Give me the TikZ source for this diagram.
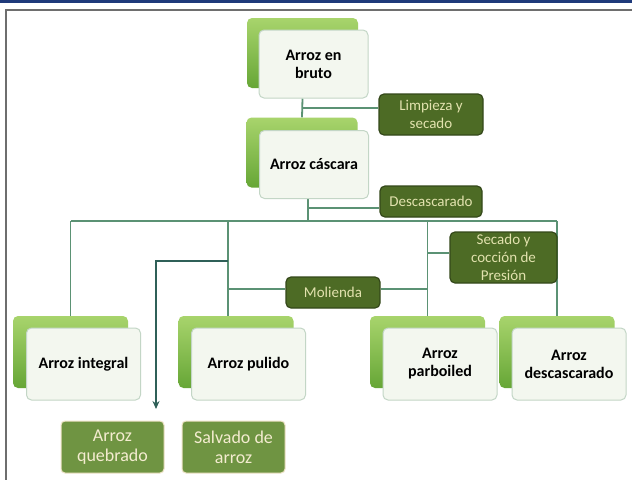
\documentclass[tikz,border=0pt]{standalone}
\usepackage{fontspec}
\setmainfont{Carlito}
\usetikzlibrary{arrows.meta}
\definecolor{topblue}{HTML}{1F3A7A}
\definecolor{framegray}{HTML}{6E6E6E}
\definecolor{bgtop}{HTML}{A8D46C}
\definecolor{bgbot}{HTML}{66A636}
\definecolor{frontfill}{HTML}{F3F7EF}
\definecolor{frontedge}{HTML}{C3D6C6}
\definecolor{procfill}{HTML}{4D6B25}
\definecolor{procedge}{HTML}{34481A}
\definecolor{proctext}{HTML}{E2E2AE}
\definecolor{prodfill}{HTML}{6F9442}
\definecolor{prodedge}{HTML}{EFE3C8}
\definecolor{prodtext}{HTML}{F4ECD0}
\definecolor{conncolor}{HTML}{5B9274}
\definecolor{darkline}{HTML}{2F6058}
\pgfdeclarelayer{bg}
\pgfsetlayers{bg,main}
\tikzset{
  backbox/.style={rectangle, rounded corners=5pt, draw=none, top color=bgtop, bottom color=bgbot, inner sep=0pt},
  topback/.style={backbox, minimum width=111pt, minimum height=70pt},
  lowback/.style={backbox, minimum width=115pt, minimum height=72pt},
  frontbox/.style={rectangle, rounded corners=5pt, draw=frontedge, line width=1pt, fill=frontfill, inner sep=1pt, align=center, text=black, font=\bfseries\fontsize{16}{18}\selectfont},
  topfront/.style={frontbox, minimum width=109pt, minimum height=68pt},
  lowfront/.style={frontbox, minimum width=114pt, minimum height=72pt},
  procbox/.style={rectangle, rounded corners=5pt, draw=procedge, line width=1.2pt, fill=procfill, text=proctext, align=center, inner sep=0pt, font=\fontsize{15}{18}\selectfont},
  prodbox/.style={rectangle, rounded corners=4pt, draw=prodedge, line width=1pt, fill=prodfill, text=prodtext, align=center, inner sep=0pt, font=\fontsize{18}{20}\selectfont, minimum width=103pt, minimum height=52pt},
  conn/.style={draw=conncolor, line width=1.8pt},
  darrow/.style={draw=darkline, line width=1.8pt, -{Stealth[length=8pt,width=7pt]}}
}
\begin{document}
\begin{tikzpicture}[x=1pt,y=-1pt]
\useasboundingbox (0,0) rectangle (632,480);
\fill[topblue] (0,0) rectangle (632,2.5);
\draw[framegray, line width=2pt] (632,10) -- (6,10) -- (6,480);

% back boxes
\node[topback] (bruto-b) at (302.5,53) {};
\node[topback] (casc-b) at (302,152.5) {};
\node[lowback] (integ-b) at (70.5,352) {};
\node[lowback] (pul-b) at (236,352) {};
\node[lowback] (parb-b) at (427.5,352) {};
\node[lowback] (desc-b) at (557,352) {};

% front boxes
\node[topfront] (bruto) at (313.5,64) {Arroz en\\bruto};
\node[topfront] (casc) at (314,164.5) {Arroz cáscara};
\node[lowfront] (integ) at (83.5,364) {Arroz integral};
\node[lowfront] (pul) at (248.5,364) {Arroz pulido};
\node[lowfront] (parb) at (440,364) {Arroz\\parboiled};
\node[lowfront] (desc) at (569,364) {Arroz\\descascarado};

% process labels
\node[procbox, minimum width=104pt, minimum height=41pt] (limp) at (431,114.5) {Limpieza y\\secado};
\node[procbox, minimum width=102pt, minimum height=31pt] (descl) at (431,201.5) {Descascarado};
\node[procbox, minimum width=107pt, minimum height=51pt] (sec) at (503.5,257.5) {Secado y\\cocción de\\Presión};
\node[procbox, minimum width=94pt, minimum height=31pt] (mol) at (333,292.5) {Molienda};

% products
\node[prodbox] (queb) at (112.5,447) {Arroz\\quebrado};
\node[prodbox] (salv) at (233.5,447) {Salvado de\\arroz};

% junction coordinates
\coordinate (j1) at (302.5,108);
\coordinate (t2) at (308,198);
\coordinate (bus) at (308,221);
\coordinate (j3) at (308,208);
\coordinate (pd) at (228,221);
\coordinate (ks) at (427.5,253);
\coordinate (m1) at (228,289);
\coordinate (d1) at (228,261);
\coordinate (d2) at (156,261);
\coordinate (qa) at (156,409);

\begin{pgfonlayer}{bg}
\fill[white] (0,3) rectangle (632,480);
\draw[conn] (bruto-b.south |- bruto.south) -- (casc-b.north);
\draw[conn] (j1) -- (j1 -| limp.west);
\draw[conn] (t2) -- (bus);
\draw[conn] (j3) -- (j3 -| descl.west);
\draw[conn] (integ-b.north |- bus) -- (desc-b.north |- bus);
\draw[conn] (integ-b.north |- bus) -- (integ-b.north);
\draw[conn] (pd) -- (pd |- pul-b.north);
\draw[conn] (parb-b.north |- bus) -- (parb-b.north);
\draw[conn] (desc-b.north |- bus) -- (desc-b.north);
\draw[conn] (ks) -- (ks -| sec.west);
\draw[conn] (m1) -- (m1 -| mol.west);
\draw[conn] (mol.east |- m1) -- (m1 -| parb-b.north);
\draw[darrow] (d1) -- (d2) -- (qa);
\end{pgfonlayer}
\end{tikzpicture}
\end{document}
